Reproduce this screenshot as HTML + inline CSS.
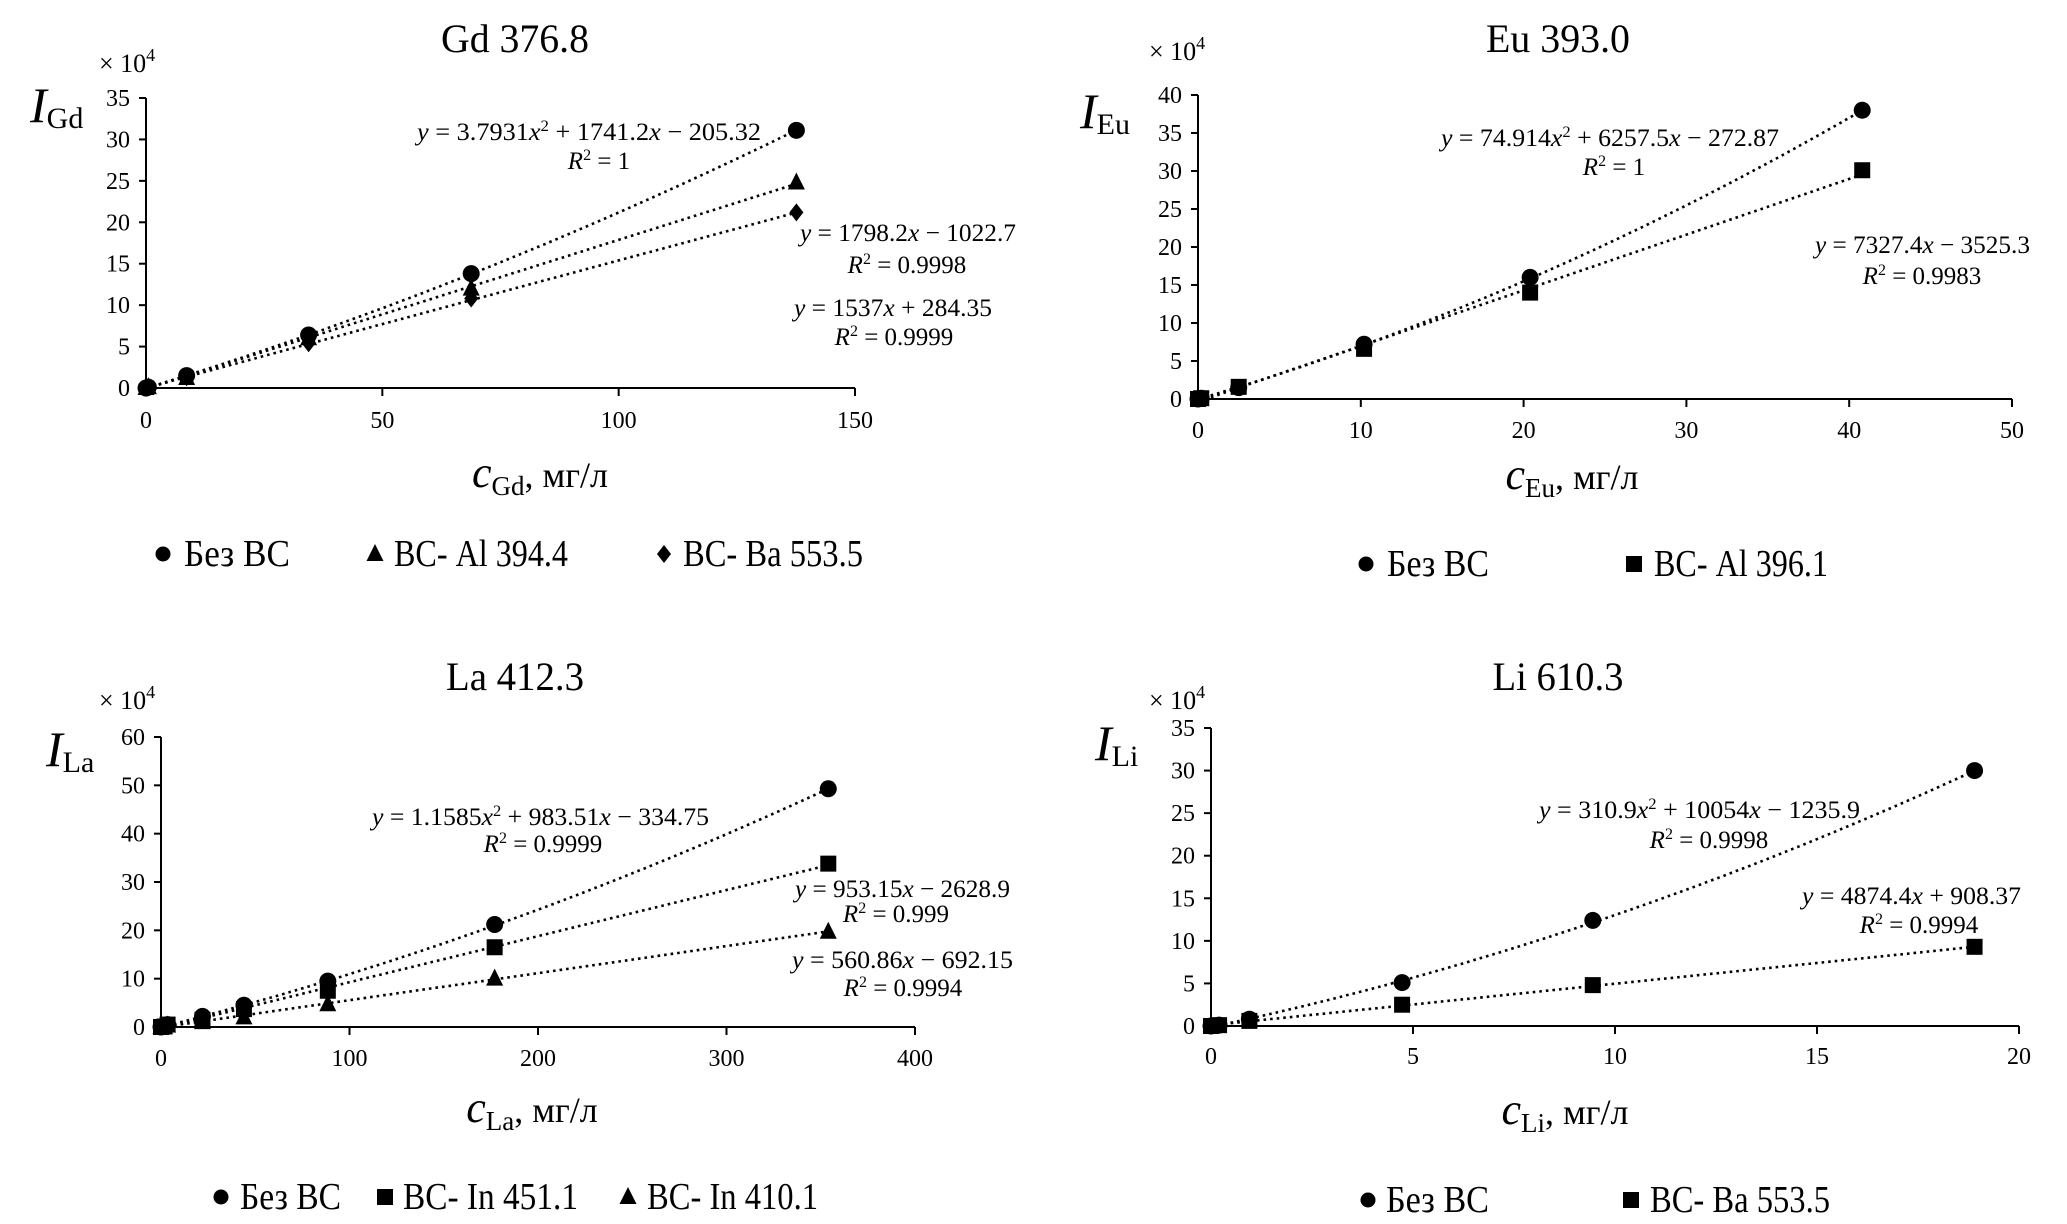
<!DOCTYPE html>
<html><head><meta charset="utf-8">
<style>
html,body{margin:0;padding:0;background:#fff;}
svg{display:block;font-family:"Liberation Serif","DejaVu Serif",serif;}
</style></head>
<body>
<svg id="fig" width="2067" height="1224" viewBox="0 0 2067 1224" xmlns="http://www.w3.org/2000/svg"></svg>
<script>
// ---------- DATA ----------
// Gd 376.8
const gdX = [0, 0.5, 8.6, 34.4, 68.8, 137.6];
const gdNoIS = [0, 0.1, 1.5, 6.4, 13.8, 31.1];
const gdAl = [0, 0.1, 1.2, 6.0, 12.0, 24.8];
const gdBa = [0, 0.1, 1.3, 5.4, 10.8, 21.2];
const gdFitNoIS = [-205.32, 1741.2, 3.7931];
const gdFitAl = [-1022.7, 1798.2, 0];
const gdFitBa = [284.35, 1537, 0];
const gdXTicks = [0, 50, 100, 150];
const gdYTicks = [0, 5, 10, 15, 20, 25, 30, 35];
// Eu 393.0
const euX = [0, 0.2, 2.5, 10.2, 20.4, 40.8];
const euNoIS = [0, 0.1, 1.5, 7.2, 16.0, 38.0];
const euAl = [0, 0.1, 1.6, 6.6, 14.0, 30.1];
const euFitNoIS = [-272.87, 6257.5, 74.914];
const euFitAl = [-3525.3, 7327.4, 0];
const euXTicks = [0, 10, 20, 30, 40, 50];
const euYTicks = [0, 5, 10, 15, 20, 25, 30, 35, 40];
// La 412.3
const laX = [0, 1.8, 3.5, 22, 44, 88.5, 177, 354];
const laNoIS = [0, 0.1, 0.5, 2.2, 4.5, 9.5, 21.2, 49.3];
const laIn451 = [0, 0.1, 0.5, 1.5, 3.7, 7.5, 16.5, 33.8];
const laIn410 = [0, 0.05, 0.3, 1.0, 2.0, 4.7, 10.0, 19.7];
const laFitNoIS = [-334.75, 983.51, 1.1585];
const laFit451 = [-2628.9, 953.15, 0];
const laFit410 = [-692.15, 560.86, 0];
const laXTicks = [0, 100, 200, 300, 400];
const laYTicks = [0, 10, 20, 30, 40, 50, 60];
// Li 610.3
const liX = [0, 0.2, 0.95, 4.73, 9.45, 18.9];
const liNoIS = [0, 0.1, 0.8, 5.1, 12.4, 30.0];
const liBa = [0, 0.1, 0.6, 2.5, 4.8, 9.3];
const liFitNoIS = [-1235.9, 10054, 310.9];
const liFitBa = [908.37, 4874.4, 0];
const liXTicks = [0, 5, 10, 15, 20];
const liYTicks = [0, 5, 10, 15, 20, 25, 30, 35];

const NS = "http://www.w3.org/2000/svg";
const svg = document.getElementById('fig');
function mk(tag, attrs, parent){
  const e = document.createElementNS(NS, tag);
  for (const k in attrs) e.setAttribute(k, attrs[k]);
  (parent||svg).appendChild(e);
  return e;
}
function fit(t, len){ t.setAttribute('textLength',len); t.setAttribute('lengthAdjust','spacingAndGlyphs'); }
function marker(g, shape, cx, cy){
  let e;
  if (shape==='circle') e = mk('circle',{cx:cx,cy:cy,r:8.5,fill:'#000'},g);
  else if (shape==='square') e = mk('rect',{x:cx-8,y:cy-8,width:16,height:16,fill:'#000'},g);
  else if (shape==='triangle') e = mk('polygon',{points:`${cx},${cy-10} ${cx+8.5},${cy+7} ${cx-8.5},${cy+7}`,fill:'#000'},g);
  else e = mk('polygon',{points:`${cx},${cy-9} ${cx+7},${cy} ${cx},${cy+9} ${cx-7},${cy}`,fill:'#000'},g);
  return e;
}
function eqText(g, parts, x, y, len){
  const t = mk('text',{x:x,y:y,'font-size':25},g);
  if (len) fit(t,len);
  parts.forEach(p=>{
    const s = mk('tspan',{},t);
    if (p[1]==='i') s.setAttribute('font-style','italic');
    if (p[1]==='s'){ s.setAttribute('font-size','16'); s.setAttribute('dy','-9'); }
    if (p[1]==='b'){ s.setAttribute('dy','9'); }
    s.textContent = p[0];
  });
  return t;
}
function quadParts(a,b,c){
  return [['y','i'],[' = '+c+'','' ],['x','i'],['2','s'],[' + '+b,'b'],['x','i'],[' \u2212 '+Math.abs(a),'']];
}
function linParts(a,b){
  return [['y','i'],[' = '+b,''],['x','i'],[(a<0?' \u2212 ':' + ')+Math.abs(a),'']];
}
function r2(g, val, cx, y){
  const t = mk('text',{x:cx,y:y,'font-size':25,'text-anchor':'middle'},g);
  const a = mk('tspan',{'font-style':'italic'},t); a.textContent='R';
  const b = mk('tspan',{'font-size':16,dy:-9},t); b.textContent='2';
  const c = mk('tspan',{dy:9},t); c.textContent=' = '+val;
}

function panel(cfg){
  const g = mk('g',{});
  
  
  const sx = v => cfg.x0 + (v - cfg.xTicks[0])/(cfg.xTicks[cfg.xTicks.length-1]-cfg.xTicks[0])*(cfg.x1-cfg.x0);
  const sy = v => cfg.y0 - (v - cfg.yTicks[0])/(cfg.yTicks[cfg.yTicks.length-1]-cfg.yTicks[0])*(cfg.y0-cfg.y1);
  const ti = mk('text',{x:cfg.titleX - cfg.titleW/2,y:cfg.titleY,'font-size':40},g);
   
  ti.textContent = cfg.title;
  fit(ti, cfg.titleW);
  const m = mk('text',{x:cfg.multX,y:cfg.multY,'font-size':26},g);
   
  const m1 = mk('tspan',{},m); m1.textContent='\u00d7 10';
  const m2 = mk('tspan',{'font-size':18,dy:-11},m); m2.textContent='4';
  const yt = mk('text',{x:cfg.ylabX,y:cfg.ylabY,'font-size':50},g);
   
  const y1 = mk('tspan',{'font-style':'italic'},yt); y1.textContent='I';
  const y2 = mk('tspan',{'font-size':30,dy:6},yt); y2.textContent=cfg.el;
  const ya = mk('line',{x1:cfg.x0,y1:cfg.y1,x2:cfg.x0,y2:cfg.y0,stroke:'#000','stroke-width':2},g);
   
  const xa = mk('line',{x1:cfg.x0,y1:cfg.y0,x2:cfg.x1,y2:cfg.y0,stroke:'#000','stroke-width':2},g);
   
  cfg.yTicks.forEach(v=>{
    mk('line',{x1:cfg.x0-7,y1:sy(v),x2:cfg.x0,y2:sy(v),stroke:'#000','stroke-width':2},g);
    const t = mk('text',{x:cfg.x0-16,y:sy(v)+8,'font-size':24,'text-anchor':'end'},g);
     
    t.textContent = v;
  });
  cfg.xTicks.forEach(v=>{
    mk('line',{x1:sx(v),y1:cfg.y0,x2:sx(v),y2:cfg.y0+8,stroke:'#000','stroke-width':2},g);
    const t = mk('text',{x:sx(v),y:cfg.tickY,'font-size':24,'text-anchor':'middle'},g);
     
    t.textContent = v;
  });
  const xt = mk('text',{x:cfg.xlabX,y:cfg.xlabY,'font-size':36,'text-anchor':'middle'},g);
   
  const x1 = mk('tspan',{'font-style':'italic','font-size':44},xt); x1.textContent='c';
  const x2 = mk('tspan',{'font-size':27,dy:8},xt); x2.textContent=cfg.el;
  const x3 = mk('tspan',{dy:-8},xt); x3.textContent=', мг/л';
  cfg.series.forEach(s=>{
    const xmax = Math.max.apply(null, cfg.xs);
    const pts=[];
    for(let i=0;i<=80;i++){
      const xv = xmax*i/80;
      const yv = (s.fit[0]+s.fit[1]*xv+s.fit[2]*xv*xv)/1e4;
      pts.push(sx(xv).toFixed(1)+','+sy(Math.max(yv,0)).toFixed(1));
    }
    const tl = mk('polyline',{points:pts.join(' '),fill:'none',stroke:'#000','stroke-width':2.6,'stroke-dasharray':'2.6 4'},g);
     
  });
  cfg.series.forEach(s=>{
    cfg.xs.forEach((xv,i)=>{
      const e = marker(g, s.shape, sx(xv), sy(s.ys[i]));
       
    });
  });
  cfg.eqs.forEach(q=>{
    const t = eqText(g, q.parts, q.x, q.y, q.len);
     
    r2(g, q.r2, q.rx, q.ry);
  });
  cfg.legend.forEach(l=>{
    const lg = mk('g',{},g);
     
    const mm = marker(lg, l.shape, l.mx, cfg.legY-12);
    if (l.shape==='circle'){ mm.setAttribute('r',7.5); }
    const t = mk('text',{x:l.tx,y:cfg.legY,'font-size':38},lg);
    t.textContent = l.label;
    fit(t, l.w);
  });
}

panel({name:'gd', title:'Gd 376.8', el:'Gd', titleX:515, titleW:148, titleY:52, multX:99, multY:72,
  ylabX:30, ylabY:122, x0:146, x1:855, y0:388, y1:98, xTicks:gdXTicks, yTicks:gdYTicks, tickY:428,
  xlabX:540, xlabY:487, xs:gdX,
  series:[{key:'no-is',shape:'circle',ys:gdNoIS,fit:gdFitNoIS},{key:'al-394',shape:'triangle',ys:gdAl,fit:gdFitAl},{key:'ba-553',shape:'diamond',ys:gdBa,fit:gdFitBa}],
  eqs:[{parts:quadParts(-205.32,'1741.2','3.7931'),x:417,y:140,len:344,r2:'1',rx:599,ry:169},
       {parts:linParts(-1022.7,'1798.2'),x:800,y:241,len:216,r2:'0.9998',rx:907,ry:273},
       {parts:linParts(284.35,'1537'),x:794,y:316,len:198,r2:'0.9999',rx:894,ry:345}],
  legY:566, legend:[{shape:'circle',mx:163,tx:184,w:106,label:'Без ВС'},{shape:'triangle',mx:375,tx:394,w:174,label:'ВС- Al 394.4'},{shape:'diamond',mx:664,tx:683,w:180,label:'ВС- Ba 553.5'}]});

panel({name:'eu', title:'Eu 393.0', el:'Eu', titleX:1558, titleW:144, titleY:52, multX:1149, multY:60,
  ylabX:1080, ylabY:128, x0:1198, x1:2012, y0:399, y1:95, xTicks:euXTicks, yTicks:euYTicks, tickY:438,
  xlabX:1572, xlabY:489, xs:euX,
  series:[{key:'no-is',shape:'circle',ys:euNoIS,fit:euFitNoIS},{key:'al-396',shape:'square',ys:euAl,fit:euFitAl}],
  eqs:[{parts:quadParts(-272.87,'6257.5','74.914'),x:1441,y:146,len:338,r2:'1',rx:1614,ry:175},
       {parts:linParts(-3525.3,'7327.4'),x:1815,y:253,len:215,r2:'0.9983',rx:1922,ry:284}],
  legY:576, legend:[{shape:'circle',mx:1366,tx:1387,w:102,label:'Без ВС'},{shape:'square',mx:1634,tx:1654,w:174,label:'ВС- Al 396.1'}]});

panel({name:'la', title:'La 412.3', el:'La', titleX:515, titleW:138, titleY:690, multX:99, multY:709,
  ylabX:46, ylabY:766, x0:161, x1:915, y0:1027, y1:737, xTicks:laXTicks, yTicks:laYTicks, tickY:1066,
  xlabX:532, xlabY:1122, xs:laX,
  series:[{key:'no-is',shape:'circle',ys:laNoIS,fit:laFitNoIS},{key:'in-451',shape:'square',ys:laIn451,fit:laFit451},{key:'in-410',shape:'triangle',ys:laIn410,fit:laFit410}],
  eqs:[{parts:quadParts(-334.75,'983.51','1.1585'),x:372,y:825,len:337,r2:'0.9999',rx:543,ry:852},
       {parts:linParts(-2628.9,'953.15'),x:795,y:897,len:215,r2:'0.999',rx:896,ry:922},
       {parts:linParts(-692.15,'560.86'),x:792,y:968,len:221,r2:'0.9994',rx:903,ry:996}],
  legY:1209, legend:[{shape:'circle',mx:221,tx:240,w:101,label:'Без ВС'},{shape:'square',mx:385,tx:403,w:175,label:'ВС- In 451.1'},{shape:'triangle',mx:628,tx:647,w:171,label:'ВС- In 410.1'}]});

panel({name:'li', title:'Li 610.3', el:'Li', titleX:1558, titleW:131, titleY:690, multX:1149, multY:709,
  ylabX:1095, ylabY:760, x0:1211, x1:2019, y0:1026, y1:728, xTicks:liXTicks, yTicks:liYTicks, tickY:1064,
  xlabX:1565, xlabY:1124, xs:liX,
  series:[{key:'no-is',shape:'circle',ys:liNoIS,fit:liFitNoIS},{key:'ba-553',shape:'square',ys:liBa,fit:liFitBa}],
  eqs:[{parts:quadParts(-1235.9,'10054','310.9'),x:1539,y:818,len:321,r2:'0.9998',rx:1709,ry:848},
       {parts:linParts(908.37,'4874.4'),x:1802,y:904,len:219,r2:'0.9994',rx:1919,ry:933}],
  legY:1212, legend:[{shape:'circle',mx:1368,tx:1386,w:103,label:'Без ВС'},{shape:'square',mx:1631,tx:1650,w:180,label:'ВС- Ba 553.5'}]});
</script>
</body></html>
